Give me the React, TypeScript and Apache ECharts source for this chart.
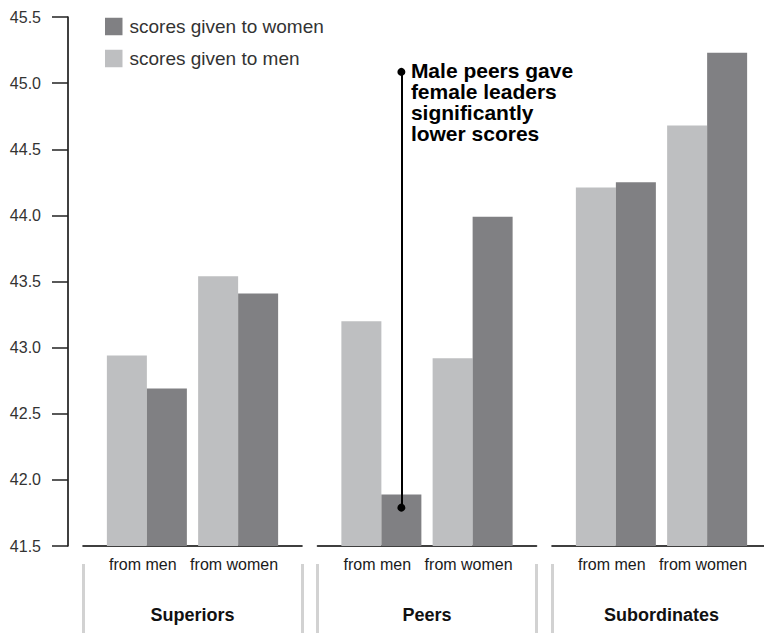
import React, { useEffect, useRef } from "react";
import * as echarts from "echarts";

// ---- data ----
const groups = ["Superiors", "Peers", "Subordinates"];
const sources = ["from men", "from women"];
const seriesNames = ["scores given to men", "scores given to women"];
const legendOrder = ["scores given to women", "scores given to men"];
const scoresToMen = [
  [42.94, 43.54],
  [43.2, 42.92],
  [44.21, 44.68],
];
const scoresToWomen = [
  [42.69, 43.41],
  [41.89, 43.99],
  [44.25, 45.23],
];
const yMin = 41.5;
const yMax = 45.5;
const yInterval = 0.5;
const annotationLines = ["Male peers gave", "female leaders", "significantly", "lower scores"];
const annotationRange = [41.79, 45.085];
const annotationGroup = 1;
const annotationSource = 0;

const FONT = "'Liberation Sans', Arial, Helvetica, sans-serif";
const LIGHT = "#bebfc1";
const DARK = "#808083";

export default function App() {
  const ref = useRef<HTMLDivElement>(null);

  useEffect(() => {
    if (!ref.current) return;
    const chart = echarts.init(ref.current, null, { renderer: "svg" });

    const grids: any[] = [];
    const xAxes: any[] = [];
    const yAxes: any[] = [];
    const series: any[] = [];

    groups.forEach((g, i) => {
      grids.push({
        left: 83 + i * 234.5,
        top: 17,
        width: 219,
        height: 529,
        outerBoundsMode: "none",
        containLabel: false,
      });
      // main value-type x axis (positions of the two source categories)
      xAxes.push({
        type: "value",
        gridIndex: i,
        min: -0.7,
        max: 1.7,
        axisLine: { show: true, onZero: false, lineStyle: { color: "#000", width: 1.6 } },
        axisTick: { show: false },
        splitLine: { show: false },
        axisLabel: {
          show: true,
          customValues: sources.map((_, k) => k),
          formatter: (v: number) => sources[Math.round(v)] ?? "",
          margin: 10,
          fontSize: 16,
          color: "#1a1a1a",
          fontFamily: FONT,
          padding: [0, 8, 0, 0],
        },
      });
      // group axis (separators + group name)
      xAxes.push({
        type: "category",
        gridIndex: i,
        position: "bottom",
        offset: 18,
        data: [g],
        axisLine: { show: false, onZero: false },
        axisTick: {
          show: true,
          length: 70,
          lineStyle: { color: "#d2d2d2", width: 3 },
        },
        axisLabel: {
          interval: 0,
          margin: 42,
          fontSize: 18,
          fontWeight: "bold",
          color: "#111",
          fontFamily: FONT,
        },
        splitLine: { show: false },
      });
      yAxes.push({
        type: "value",
        gridIndex: i,
        show: i === 0,
        min: yMin,
        max: yMax,
        interval: yInterval,
        position: "left",
        offset: 15,
        axisLine: { show: true, onZero: false, lineStyle: { color: "#000", width: 1.5 } },
        axisTick: { show: true, length: 16, lineStyle: { color: "#222", width: 1.5 } },
        splitLine: { show: false },
        axisLabel: {
          margin: 27,
          fontSize: 16,
          color: "#333",
          fontFamily: FONT,
          formatter: (v: number) => v.toFixed(1),
        },
      });

      const isAnnot = i === annotationGroup;
      series.push({
        type: "bar",
        name: seriesNames[0],
        xAxisIndex: i * 2,
        yAxisIndex: i,
        barWidth: 40,
        barGap: "0%",
        clip: true,
        itemStyle: { color: LIGHT },
        data: scoresToMen[i].map((v, k) => [k, v]),
      });
      series.push({
        type: "bar",
        name: seriesNames[1],
        xAxisIndex: i * 2,
        yAxisIndex: i,
        barWidth: 40,
        barGap: "0%",
        clip: true,
        itemStyle: { color: DARK },
        data: scoresToWomen[i].map((v, k) => [k, v]),
        ...(isAnnot
          ? {
              markLine: {
                silent: true,
                animation: false,
                symbol: ["circle", "circle"],
                symbolSize: 8,
                lineStyle: { color: "#000", width: 2, type: "solid" },
                itemStyle: { color: "#000" },
                label: { show: false },
                data: [
                  [
                    { coord: [annotationSource, annotationRange[0]] },
                    { coord: [annotationSource, annotationRange[1]] },
                  ],
                ],
              },
              markPoint: {
                silent: true,
                animation: false,
                data: [
                  {
                    coord: [annotationSource, annotationRange[1]],
                    symbol: "circle",
                    symbolSize: 1,
                    itemStyle: { color: "rgba(0,0,0,0)" },
                    label: {
                      show: true,
                      formatter: annotationLines.join("\n"),
                      position: [10, -11],
                      align: "left",
                      verticalAlign: "top",
                      fontSize: 21,
                      lineHeight: 21,
                      fontWeight: "bold",
                      color: "#000",
                      fontFamily: FONT,
                    },
                  },
                ],
              },
            }
          : {}),
      });
    });

    chart.setOption({
      animation: false,
      backgroundColor: "#fff",
      textStyle: { fontFamily: FONT },
      legend: {
        data: legendOrder,
        orient: "vertical",
        left: 105,
        top: 17,
        padding: 0,
        icon: "rect",
        itemWidth: 17.5,
        itemHeight: 17.5,
        itemGap: 13,
        selectedMode: false,
        textStyle: { fontSize: 19, lineHeight: 19, color: "#333", fontFamily: FONT, padding: [0, 0, 0, 2] },
      },
      grid: grids,
      xAxis: xAxes,
      yAxis: yAxes,
      series,
    });

    return () => chart.dispose();
  }, []);

  return (
    <div
      ref={ref}
      style={{ position: "absolute", left: 0, top: 0, width: 764, height: 633 }}
    />
  );
}
